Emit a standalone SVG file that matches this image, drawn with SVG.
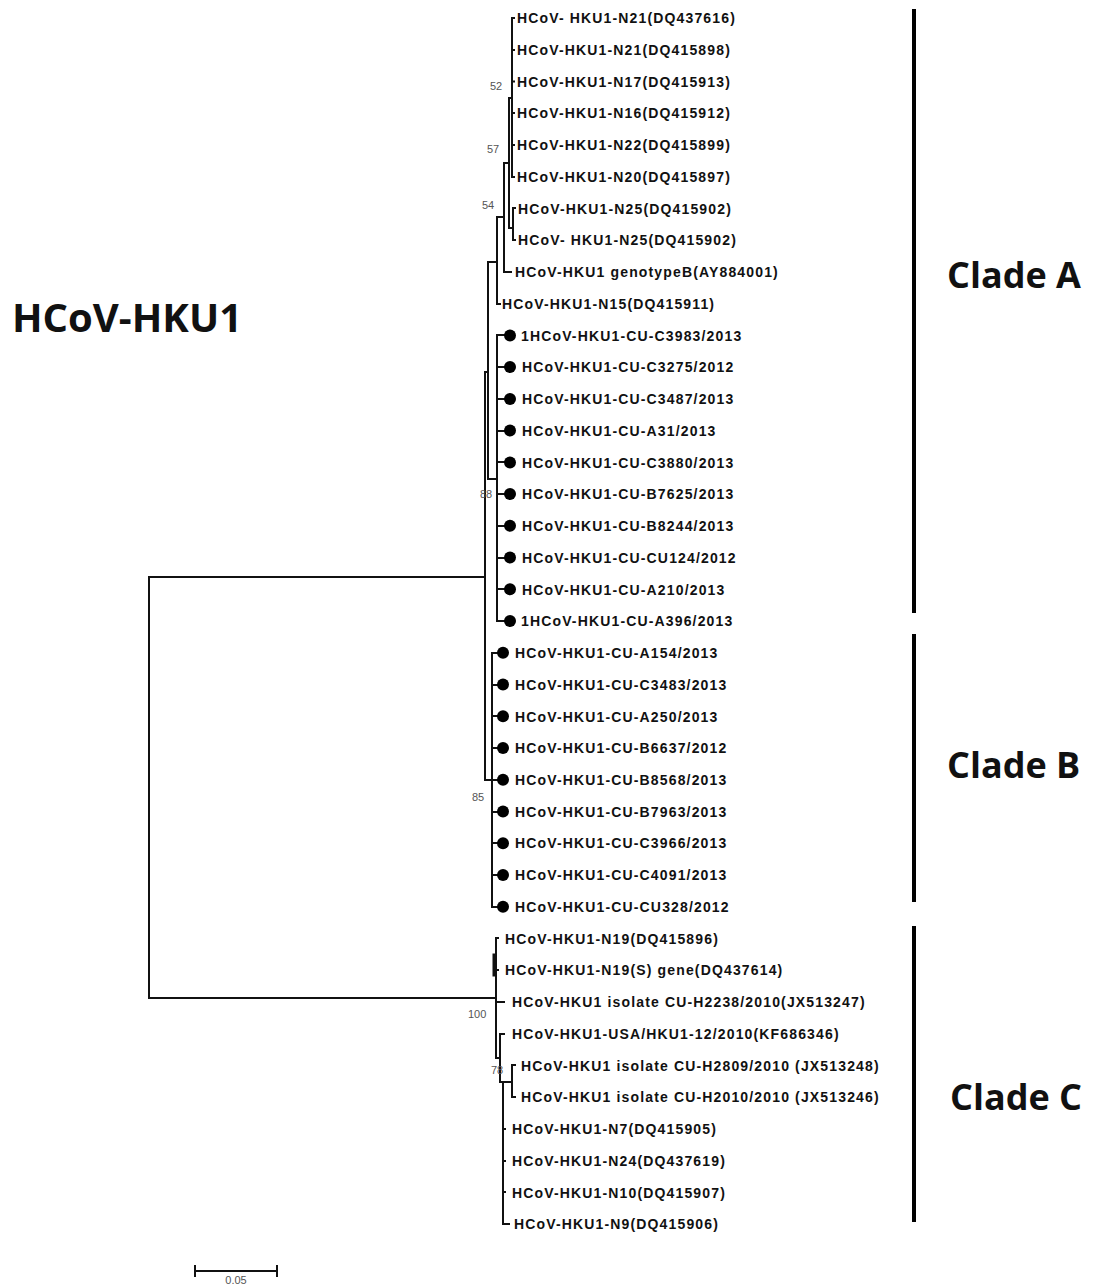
<svg xmlns="http://www.w3.org/2000/svg" width="1093" height="1285" viewBox="0 0 1093 1285">
<style>
.lbl{font-family:"Liberation Sans",Arial,sans-serif;font-weight:bold;font-size:14px;letter-spacing:1.15px;fill:#111}
.bs{font-family:"Liberation Sans",Arial,sans-serif;font-size:11px;fill:#555}
.clade{font-family:"Open Sans",sans-serif;font-weight:bold;font-size:36px;fill:#111}
.title{font-family:"Open Sans",sans-serif;font-weight:bold;font-size:40px;fill:#111}
.br{stroke:#111;stroke-width:2;fill:none;stroke-linecap:square}
.bar{stroke:#000;stroke-width:4}
.dot{fill:#000}
</style>
<rect width="1093" height="1285" fill="#fff"/>
<text class="title" x="12" y="332">HCoV-HKU1</text>
<g id="connectors" class="br">
<path d="M149,577V998M149,577H485M149,998H496"/>
<path d="M485,372V780M485,372H488M488,262V479M488,262H497M488,479H497"/>
<path d="M497,217V304M497,217H504M497,304H500M504,163V272M504,163H509M504,272H511M509,98V228M509,98H512M509,228H513"/>
<path d="M512,18V177M512,18H514M512,50H514M512,81.5H514M512,113H514M512,145H514M512,177H514"/>
<path d="M513,208V240M513,208H515M513,240H515"/>
<path d="M497,335V621M497,335H505M497,367H505M497,399H505M497,431H505M497,462H505M497,494H505M497,526H505M497,558H505M497,589H505M497,621H505"/>
<path d="M485,780H492M492,653V907M492,653H498M492,685H498M492,716H498M492,748H498M492,780H498M492,812H498M492,843H498M492,875H498M492,907H498"/>
<path d="M496,938V1058M496,938H498M496,970H498M496,1002H504M496,1058H500M500,1034V1082M500,1034H504M500,1082H503M503,1082V1224M503,1082H512M512,1065V1097M512,1065H515M512,1097H515M503,1129H505M503,1161H505M503,1192H505M503,1224H509"/>
<path d="M494,955V975" stroke-width="3"/>
</g>
<g id="dots" class="dot">
<circle cx="510" cy="335.4" r="6"/><circle cx="510" cy="367.1" r="6"/><circle cx="510" cy="398.9" r="6"/><circle cx="510" cy="430.6" r="6"/><circle cx="510" cy="462.4" r="6"/><circle cx="510" cy="494.1" r="6"/><circle cx="510" cy="525.8" r="6"/><circle cx="510" cy="557.6" r="6"/><circle cx="510" cy="589.3" r="6"/><circle cx="510" cy="621.1" r="6"/>
<circle cx="503" cy="652.8" r="6"/><circle cx="503" cy="684.5" r="6"/><circle cx="503" cy="716.3" r="6"/><circle cx="503" cy="748" r="6"/><circle cx="503" cy="779.8" r="6"/><circle cx="503" cy="811.5" r="6"/><circle cx="503" cy="843.2" r="6"/><circle cx="503" cy="875" r="6"/><circle cx="503" cy="906.7" r="6"/>
</g>
<g id="leaves" class="lbl">
<text x="517" y="23">HCoV- HKU1-N21(DQ437616)</text>
<text x="517" y="55">HCoV-HKU1-N21(DQ415898)</text>
<text x="517" y="86.5">HCoV-HKU1-N17(DQ415913)</text>
<text x="517" y="118">HCoV-HKU1-N16(DQ415912)</text>
<text x="517" y="150">HCoV-HKU1-N22(DQ415899)</text>
<text x="517" y="182">HCoV-HKU1-N20(DQ415897)</text>
<text x="518" y="213.5">HCoV-HKU1-N25(DQ415902)</text>
<text x="518" y="245">HCoV- HKU1-N25(DQ415902)</text>
<text x="515" y="277">HCoV-HKU1 genotypeB(AY884001)</text>
<text x="502" y="309">HCoV-HKU1-N15(DQ415911)</text>
<text x="521" y="340.5">1HCoV-HKU1-CU-C3983/2013</text>
<text x="522" y="372">HCoV-HKU1-CU-C3275/2012</text>
<text x="522" y="404">HCoV-HKU1-CU-C3487/2013</text>
<text x="522" y="436">HCoV-HKU1-CU-A31/2013</text>
<text x="522" y="467.5">HCoV-HKU1-CU-C3880/2013</text>
<text x="522" y="499">HCoV-HKU1-CU-B7625/2013</text>
<text x="522" y="531">HCoV-HKU1-CU-B8244/2013</text>
<text x="522" y="562.5">HCoV-HKU1-CU-CU124/2012</text>
<text x="522" y="594.5">HCoV-HKU1-CU-A210/2013</text>
<text x="521" y="626">1HCoV-HKU1-CU-A396/2013</text>
<text x="515" y="658">HCoV-HKU1-CU-A154/2013</text>
<text x="515" y="689.5">HCoV-HKU1-CU-C3483/2013</text>
<text x="515" y="721.5">HCoV-HKU1-CU-A250/2013</text>
<text x="515" y="753">HCoV-HKU1-CU-B6637/2012</text>
<text x="515" y="785">HCoV-HKU1-CU-B8568/2013</text>
<text x="515" y="816.5">HCoV-HKU1-CU-B7963/2013</text>
<text x="515" y="848">HCoV-HKU1-CU-C3966/2013</text>
<text x="515" y="880">HCoV-HKU1-CU-C4091/2013</text>
<text x="515" y="912">HCoV-HKU1-CU-CU328/2012</text>
<text x="505" y="943.5">HCoV-HKU1-N19(DQ415896)</text>
<text x="505" y="975">HCoV-HKU1-N19(S) gene(DQ437614)</text>
<text x="512" y="1007">HCoV-HKU1 isolate CU-H2238/2010(JX513247)</text>
<text x="512" y="1039">HCoV-HKU1-USA/HKU1-12/2010(KF686346)</text>
<text x="521" y="1070.5">HCoV-HKU1 isolate CU-H2809/2010 (JX513248)</text>
<text x="521" y="1102">HCoV-HKU1 isolate CU-H2010/2010 (JX513246)</text>
<text x="512" y="1134">HCoV-HKU1-N7(DQ415905)</text>
<text x="512" y="1166">HCoV-HKU1-N24(DQ437619)</text>
<text x="512" y="1197.5">HCoV-HKU1-N10(DQ415907)</text>
<text x="514" y="1229">HCoV-HKU1-N9(DQ415906)</text>
</g>
<g id="bootstrap" class="bs">
<text x="490" y="90">52</text>
<text x="487" y="153">57</text>
<text x="482" y="209">54</text>
<text x="480" y="498">88</text>
<text x="472" y="801">85</text>
<text x="468" y="1018">100</text>
<text x="491" y="1074">78</text>
</g>
<g id="clades">
<line class="bar" x1="914" y1="9" x2="914" y2="613"/>
<line class="bar" x1="914" y1="634" x2="914" y2="902"/>
<line class="bar" x1="914" y1="926" x2="914" y2="1222"/>
<text class="clade" x="947" y="288">Clade A</text>
<text class="clade" x="947" y="778">Clade B</text>
<text class="clade" x="950" y="1110">Clade C</text>
</g>
<g id="scale">
<path class="br" d="M195,1271H277M195,1266V1276M277,1266V1276" stroke="#333"/>
<text class="bs" x="236" y="1284" text-anchor="middle">0.05</text>
</g>
</svg>
